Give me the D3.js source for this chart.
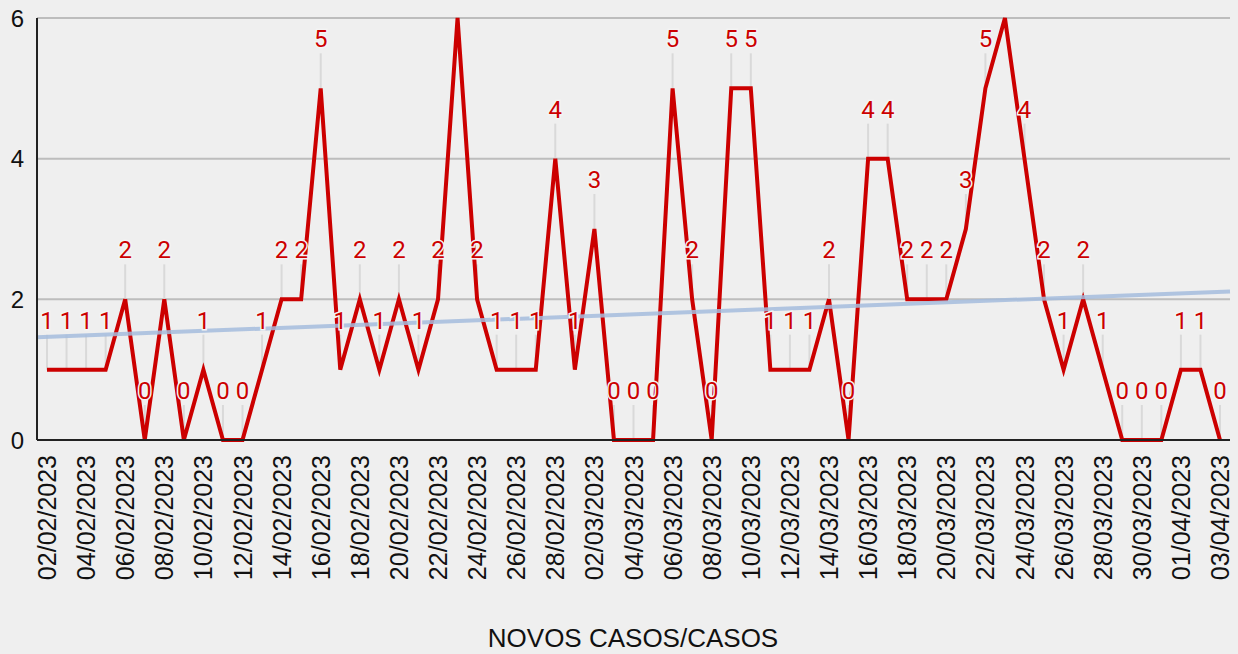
<!DOCTYPE html>
<html>
<head>
<meta charset="utf-8">
<script src="https://cdn.jsdelivr.net/npm/d3@7"></script>
<style>
  body { margin: 0; background: #efefef; }
  svg { display: block; }
</style>
</head>
<body>
<svg id="chart" width="1238" height="654"></svg>
<script>
// Daily dates (dd/mm/yyyy) and new cases
const dates = [
  "02/02/2023","03/02/2023","04/02/2023","05/02/2023","06/02/2023","07/02/2023","08/02/2023",
  "09/02/2023","10/02/2023","11/02/2023","12/02/2023","13/02/2023","14/02/2023","15/02/2023",
  "16/02/2023","17/02/2023","18/02/2023","19/02/2023","20/02/2023","21/02/2023","22/02/2023",
  "23/02/2023","24/02/2023","25/02/2023","26/02/2023","27/02/2023","28/02/2023","01/03/2023",
  "02/03/2023","03/03/2023","04/03/2023","05/03/2023","06/03/2023","07/03/2023","08/03/2023",
  "09/03/2023","10/03/2023","11/03/2023","12/03/2023","13/03/2023","14/03/2023","15/03/2023",
  "16/03/2023","17/03/2023","18/03/2023","19/03/2023","20/03/2023","21/03/2023","22/03/2023",
  "23/03/2023","24/03/2023","25/03/2023","26/03/2023","27/03/2023","28/03/2023","29/03/2023",
  "30/03/2023","31/03/2023","01/04/2023","02/04/2023","03/04/2023"
];
const cases = [
  1,1,1,1,2,0,2,0,1,0,0,1,2,2,5,1,2,1,2,1,2,6,2,1,1,1,4,
  1,3,0,0,0,5,2,0,5,5,1,1,1,2,0,4,4,2,2,2,3,5,6,4,2,1,2,1,0,0,0,
  1,1,0
];
const yTicks = [0, 2, 4, 6];
const title = "NOVOS CASOS/CASOS";

const svg = d3.select("#chart");
const plotLeft = 37, plotRight = 1230, plotTop = 18, plotBottom = 440;

const x = d3.scalePoint()
    .domain(dates)
    .range([47, 1220]);

const y = d3.scaleLinear()
    .domain([0, 6])
    .range([plotBottom, plotTop]);

const data = dates.map((d, i) => ({ date: d, value: cases[i], i }));

// Gridlines
svg.append("g")
    .selectAll("line")
    .data(yTicks.filter(t => t > 0))
    .enter().append("line")
    .attr("x1", plotLeft).attr("x2", plotRight)
    .attr("y1", d => y(d)).attr("y2", d => y(d))
    .attr("stroke", "#bdbdbd")
    .attr("stroke-width", 2);

// Y tick labels
svg.append("g")
    .selectAll("text")
    .data(yTicks)
    .enter().append("text")
    .attr("x", 24)
    .attr("y", d => y(d))
    .attr("dy", "0.36em")
    .attr("text-anchor", "end")
    .attr("font-family", "Liberation Sans, Arial, sans-serif")
    .attr("font-size", 24)
    .attr("fill", "#111")
    .text(d => d);

// Leader lines for the data labels
const labelOffset = 41;
const visible = data.filter(d => y(d.value) - labelOffset - 18 > 0);
svg.append("g")
    .selectAll("line")
    .data(visible)
    .enter().append("line")
    .attr("x1", d => x(d.date)).attr("x2", d => x(d.date))
    .attr("y1", d => y(d.value) - labelOffset + 6)
    .attr("y2", d => y(d.value))
    .attr("stroke", "#d9d9d9")
    .attr("stroke-width", 2);

// Main series line
const line = d3.line()
    .x(d => x(d.date))
    .y(d => y(d.value));

svg.append("path")
    .datum(data)
    .attr("d", line)
    .attr("fill", "none")
    .attr("stroke", "#cc0000")
    .attr("stroke-width", 4)
    .attr("stroke-linejoin", "miter");

// Linear trend line (least squares)
const n = data.length;
const mx = d3.mean(data, d => d.i), my = d3.mean(data, d => d.value);
const slope = d3.sum(data, d => (d.i - mx) * (d.value - my)) / d3.sum(data, d => (d.i - mx) ** 2);
const intercept = my - slope * mx;
svg.append("line")
    .attr("x1", plotLeft).attr("x2", plotRight)
    .attr("y1", y(intercept + slope * (-0.5)))
    .attr("y2", y(intercept + slope * (n - 1 + 0.5)))
    .attr("stroke", "#a4bcdd")
    .attr("stroke-opacity", 0.85)
    .attr("stroke-width", 4);

// Axes lines
svg.append("line")
    .attr("x1", plotLeft).attr("x2", plotLeft)
    .attr("y1", plotTop).attr("y2", plotBottom)
    .attr("stroke", "#222").attr("stroke-width", 2);
svg.append("line")
    .attr("x1", plotLeft).attr("x2", plotRight)
    .attr("y1", plotBottom).attr("y2", plotBottom)
    .attr("stroke", "#222").attr("stroke-width", 2);

// Data labels with halo
svg.append("g")
    .selectAll("text")
    .data(visible)
    .enter().append("text")
    .attr("x", d => x(d.date))
    .attr("y", d => y(d.value) - labelOffset)
    .attr("text-anchor", "middle")
    .attr("font-family", "Roboto, sans-serif")
    .attr("font-size", 24)
    .attr("fill", "#cc0000")
    .attr("stroke", "#f4f4f4")
    .attr("stroke-width", 3)
    .attr("paint-order", "stroke")
    .text(d => d.value);

// X tick labels, every other day, rotated
svg.append("g")
    .selectAll("text")
    .data(dates.filter((d, i) => i % 2 === 0))
    .enter().append("text")
    .attr("transform", d => `translate(${x(d)},455) rotate(-90)`)
    .attr("dy", "0.36em")
    .attr("text-anchor", "end")
    .attr("font-family", "Liberation Sans, Arial, sans-serif")
    .attr("font-size", 25)
    .attr("fill", "#111")
    .text(d => d);

// Axis title
svg.append("text")
    .attr("x", 633)
    .attr("y", 647)
    .attr("text-anchor", "middle")
    .attr("font-family", "Liberation Sans, Arial, sans-serif")
    .attr("font-size", 26)
    .attr("fill", "#111")
    .text(title);
</script>
</body>
</html>
